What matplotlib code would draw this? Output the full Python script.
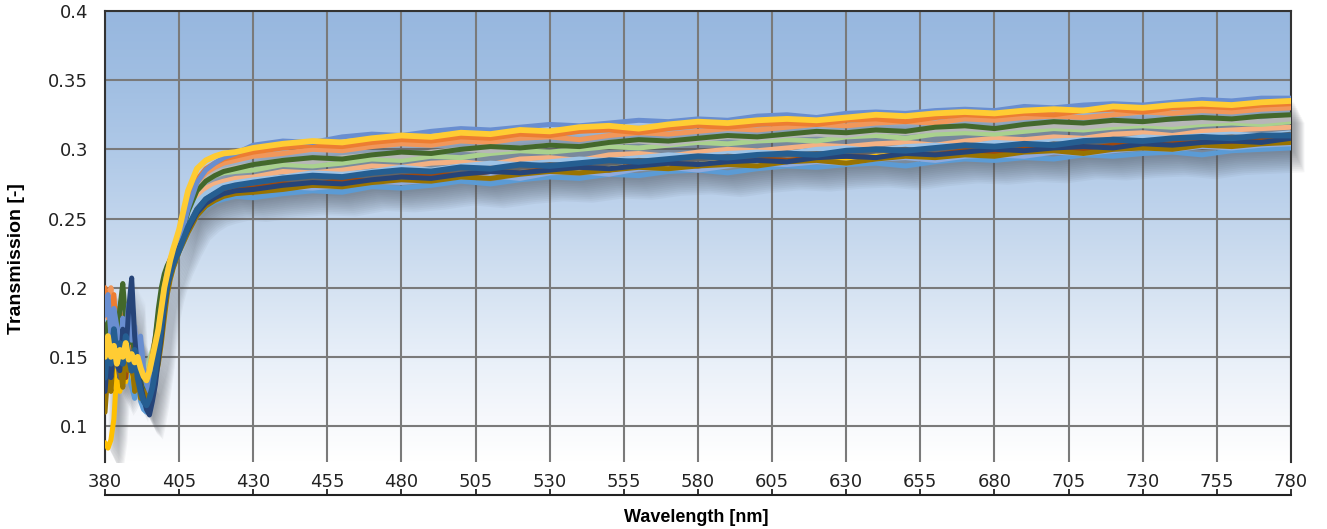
import matplotlib
matplotlib.use("Agg")
import matplotlib.pyplot as plt
import numpy as np
from matplotlib.colors import LinearSegmentedColormap
from matplotlib.patches import Rectangle
from matplotlib.transforms import ScaledTranslation

# wavelength grid [nm] (dense where the spectra jump around)
wavelength = [380, 381, 382, 383, 384, 385, 386, 387, 388, 389, 390, 391, 392,
              393, 394, 395, 396, 397, 398, 399, 400, 401, 402, 403, 404, 405,
              408, 411, 414, 417, 420, 424,
              430, 440, 450, 460, 470, 480, 490, 500, 510, 520, 530, 540,
              550, 560, 570, 580, 590, 600, 610, 620, 630, 640, 650, 660,
              670, 680, 690, 700, 710, 720, 730, 740, 750, 760, 770, 780]

# transmission, in thousandths
t_blue = [120, 150, 135, 160, 140, 165, 130, 150, 135, 128, 120, 140, 118, 112, 110, 118, 125, 138, 150, 165, 185, 198, 208, 215, 220, 226,
          240, 252, 258, 262, 264, 266,
          265, 268, 270, 269, 273, 272, 274, 277, 275, 278, 280, 279, 282, 281, 284, 285, 283, 286,
          288, 287, 289, 290, 288, 291, 293, 292, 294, 293, 296, 295, 297, 298, 296, 299, 300, 301]
t_lightblue2 = [140, 175, 155, 185, 150, 170, 160, 178, 150, 165, 140, 155, 130, 125, 120, 122, 130, 145, 160, 178, 195, 205, 212, 218, 224, 229,
                246, 258, 264, 267, 269, 270,
                270, 273, 272, 274, 277, 276, 278, 280, 281, 279, 283, 284, 282, 286, 287, 285, 288, 290,
                289, 291, 290, 293, 294, 292, 295, 296, 295, 298, 297, 299, 301, 300, 302, 301, 303, 304]
t_lightpeach = [185, 170, 195, 160, 188, 165, 180, 170, 158, 175, 150, 162, 140, 132, 128, 135, 145, 158, 175, 190, 202, 210, 218, 222, 227, 231,
                252, 266, 272, 275, 277, 279,
                280, 284, 283, 285, 288, 287, 290, 291, 289, 293, 294, 292, 296, 297, 295, 298, 300, 299,
                301, 303, 302, 304, 305, 303, 306, 308, 307, 309, 308, 311, 312, 310, 313, 314, 315, 316]
t_skyblue = [150, 182, 160, 175, 188, 158, 170, 150, 180, 160, 145, 158, 135, 128, 122, 130, 138, 150, 168, 182, 196, 206, 214, 220, 225, 230,
             250, 262, 268, 272, 274, 276,
             278, 280, 283, 282, 284, 287, 285, 288, 290, 289, 291, 293, 292, 294, 296, 295, 297, 298,
             297, 300, 301, 299, 302, 303, 302, 305, 304, 306, 307, 306, 309, 308, 310, 311, 310, 312]
t_lightgreen = [165, 155, 178, 168, 150, 172, 160, 140, 168, 150, 160, 138, 142, 135, 140, 148, 155, 162, 172, 188, 200, 210, 217, 223, 228, 232,
                256, 270, 277, 281, 283, 284,
                285, 289, 288, 290, 293, 292, 295, 294, 297, 299, 298, 300, 302, 301, 303, 305, 304, 306,
                307, 306, 309, 310, 308, 311, 312, 311, 313, 315, 314, 316, 317, 316, 318, 319, 318, 320]
t_darkgray = [130, 158, 140, 170, 148, 135, 160, 142, 170, 150, 128, 145, 125, 120, 118, 122, 132, 148, 165, 180, 195, 205, 212, 219, 224, 229,
              244, 257, 264, 268, 270, 272,
              274, 276, 279, 278, 281, 283, 282, 285, 284, 287, 289, 288, 290, 292, 291, 293, 295, 294,
              296, 297, 296, 299, 300, 298, 301, 302, 301, 304, 303, 305, 306, 305, 308, 309, 308, 311]
t_brown = [145, 130, 165, 150, 175, 140, 162, 135, 158, 142, 132, 148, 128, 118, 116, 124, 134, 146, 160, 176, 192, 203, 211, 217, 223, 228,
           243, 256, 263, 267, 269, 271,
           272, 275, 274, 278, 277, 280, 282, 281, 284, 283, 286, 287, 285, 289, 290, 288, 291, 293,
           292, 294, 295, 294, 297, 296, 299, 298, 300, 301, 300, 303, 302, 304, 305, 304, 307, 309]
t_olive = [110, 140, 125, 155, 170, 145, 128, 160, 140, 150, 125, 138, 120, 132, 118, 115, 125, 135, 145, 160, 178, 195, 206, 214, 220, 226,
           240, 252, 259, 263, 266, 268,
           269, 271, 274, 273, 276, 278, 277, 280, 279, 282, 284, 283, 285, 287, 286, 288, 289, 288,
           291, 292, 290, 293, 295, 294, 296, 295, 298, 299, 297, 300, 301, 300, 303, 302, 304, 305]
t_silver = [170, 160, 185, 150, 178, 162, 190, 155, 172, 148, 168, 140, 150, 138, 132, 140, 150, 162, 176, 192, 205, 214, 220, 225, 229, 233,
            258, 272, 279, 283, 285, 287,
            289, 292, 291, 294, 296, 295, 298, 300, 299, 301, 303, 302, 305, 306, 304, 307, 309, 308,
            310, 311, 310, 313, 312, 314, 315, 314, 316, 317, 316, 318, 319, 318, 320, 321, 320, 322]
t_peach = [190, 178, 200, 165, 185, 170, 158, 180, 162, 155, 170, 148, 145, 140, 136, 142, 152, 165, 180, 194, 206, 215, 221, 226, 230, 234,
           262, 276, 283, 287, 290, 292,
           295, 297, 300, 299, 302, 304, 303, 306, 305, 308, 309, 307, 310, 312, 311, 313, 315, 314,
           316, 318, 317, 319, 320, 319, 322, 321, 323, 324, 323, 325, 327, 326, 328, 327, 329, 330]
t_orange = [200, 185, 170, 195, 160, 182, 168, 150, 175, 160, 145, 162, 150, 138, 132, 138, 148, 160, 178, 192, 204, 214, 220, 225, 229, 233,
            262, 278, 286, 290, 293, 295,
            298, 301, 303, 302, 305, 307, 306, 309, 308, 311, 310, 313, 314, 312, 315, 317, 316, 318,
            319, 318, 321, 322, 320, 323, 325, 324, 326, 325, 328, 329, 327, 330, 331, 330, 332, 333]
t_darkgreen = [160, 175, 150, 170, 155, 185, 203, 175, 160, 170, 150, 158, 140, 135, 128, 138, 150, 165, 185, 200, 210, 216, 220, 224, 228, 232,
               255, 270, 277, 281, 284, 286,
               289, 292, 294, 293, 296, 298, 297, 300, 302, 301, 303, 302, 305, 307, 306, 308, 310, 309,
               311, 313, 312, 314, 313, 316, 317, 315, 318, 320, 319, 321, 320, 322, 323, 322, 324, 325]
t_cornflower = [180, 195, 165, 185, 172, 150, 178, 165, 188, 162, 172, 152, 165, 142, 130, 125, 135, 150, 170, 185, 200, 212, 220, 225, 228, 232,
                257, 276, 285, 290, 294, 297,
                303, 306, 305, 309, 311, 310, 313, 315, 314, 316, 318, 317, 319, 321, 320, 322, 321, 324,
                325, 323, 326, 327, 326, 328, 329, 328, 331, 330, 332, 333, 332, 334, 336, 335, 337, 337]
t_navy = [125, 150, 135, 160, 145, 140, 170, 150, 185, 207, 165, 140, 130, 120, 112, 108, 118, 130, 148, 165, 185, 200, 210, 218, 224, 229,
          242, 254, 261, 265, 268, 270,
          271, 274, 276, 275, 278, 280, 279, 282, 284, 283, 285, 287, 286, 288, 290, 289, 291, 292,
          291, 294, 295, 294, 297, 296, 298, 300, 299, 301, 302, 301, 304, 303, 305, 306, 305, 308]
t_gold = [88, 84, 90, 105, 140, 125, 150, 132, 158, 140, 128, 145, 126, 122, 120, 128, 138, 148, 162, 180, 195, 207, 215, 221, 226, 231,
          245, 257, 263, 266, 268, 269,
          270, 272, 275, 274, 277, 279, 278, 281, 280, 283, 285, 284, 286, 288, 287, 289, 291, 290,
          292, 293, 292, 295, 296, 294, 297, 299, 298, 300, 299, 302, 303, 301, 304, 305, 304, 306]
t_darkblue = [135, 160, 145, 170, 150, 160, 145, 165, 150, 140, 155, 135, 125, 118, 115, 120, 128, 140, 155, 172, 190, 202, 210, 217, 222, 227,
              244, 256, 264, 268, 272, 274,
              276, 279, 281, 280, 283, 285, 284, 287, 286, 289, 288, 290, 292, 291, 293, 295, 294, 296,
              297, 296, 299, 300, 299, 301, 303, 302, 304, 303, 306, 307, 306, 308, 309, 308, 310, 310]
t_yellow = [150, 165, 150, 158, 145, 155, 150, 160, 148, 152, 146, 150, 142, 136, 133, 140, 150, 160, 170, 185, 200, 210, 220, 228, 235, 242,
            270, 286, 292, 295, 297, 298,
            301, 304, 306, 305, 308, 310, 309, 312, 311, 314, 313, 316, 317, 315, 318, 320, 319, 321,
            322, 321, 323, 325, 324, 326, 327, 326, 328, 329, 328, 331, 330, 332, 333, 332, 334, 335]

# drawing order: last one ends up on top
series = [
    ("#5B9BD5", 3.6, t_blue),
    ("#FFC000", 3.6, t_gold),
    ("#8FAADC", 3.6, t_lightblue2),
    ("#F4B183", 3.6, t_lightpeach),
    ("#9DC3E6", 3.6, t_skyblue),
    ("#A9D18E", 3.6, t_lightgreen),
    ("#636363", 3.6, t_darkgray),
    ("#9E480E", 3.6, t_brown),
    ("#997300", 3.6, t_olive),
    ("#B7B7B7", 3.6, t_silver),
    ("#F1975A", 3.6, t_peach),
    ("#ED7D31", 3.6, t_orange),
    ("#43682B", 3.6, t_darkgreen),
    ("#698ED0", 3.6, t_cornflower),
    ("#264478", 3.6, t_navy),
    ("#255E91", 4.2, t_darkblue),
    ("#FFCC33", 4.2, t_yellow),
]

xticks = list(range(380, 781, 25))
yticks = [0.1, 0.15, 0.2, 0.25, 0.3, 0.35, 0.4]

W_PX, H_PX = 1327, 529
# plot frame in pixels from the top-left corner
X0, X1, Y0, Y1 = 105, 1291, 11, 462

fig = plt.figure(figsize=(W_PX / 100, H_PX / 100), dpi=100)
ax = fig.add_axes([X0 / W_PX, 1 - Y1 / H_PX, (X1 - X0) / W_PX, (Y1 - Y0) / H_PX])

# blue-to-white background
bg = LinearSegmentedColormap.from_list("bg", [
    (0.00, "#FFFFFF"), (0.10, "#F6F8FC"), (0.25, "#E6EEF8"), (0.40, "#D3E1F1"),
    (0.55, "#C0D4EC"), (0.70, "#AEC8E7"), (0.85, "#A0BEE2"), (1.00, "#97B7DF")])
ax.imshow(np.linspace(0, 1, 256).reshape(-1, 1), extent=[0, 1, 0, 1],
          transform=ax.transAxes, aspect="auto", cmap=bg, origin="lower", zorder=0)

stack = np.array([s[2] for s in series], dtype=float) / 1000.0
lo, hi = stack.min(axis=0), stack.max(axis=0)

# soft drop shadow behind the bundle of spectra
clip = Rectangle((0, 0), 1.03, 1, transform=ax.transAxes)
for k in range(12):
    off = ScaledTranslation((3 + 0.9 * k) / 100, -(4 + 1.8 * k) / 100, fig.dpi_scale_trans)
    poly = ax.fill_between(wavelength, lo, hi, color="#4a5058", alpha=0.055, lw=0,
                           transform=ax.transData + off, zorder=1.5)
    poly.set_clip_path(clip)

for color, lw, vals in series:
    ax.plot(wavelength, np.array(vals) / 1000.0, color=color, lw=lw,
            solid_joinstyle="round", solid_capstyle="round", zorder=3)

ax.set_xlim(380, 780)
ax.set_ylim(0.074, 0.4)
ax.set_xticks(xticks)
ax.set_yticks(yticks)
ax.set_yticklabels([f"{v:g}" for v in yticks])
ax.set_axisbelow(True)
ax.grid(color="#7a7a7a", lw=1.5)
ax.tick_params(axis="both", length=0, labelsize=13, colors="#222222")
ax.tick_params(axis="x", pad=8)
ax.tick_params(axis="y", pad=12)
ax.spines["bottom"].set_visible(False)
for s in ("left", "top", "right"):
    ax.spines[s].set_color("#333333")
    ax.spines[s].set_linewidth(1.5)

# separate axis line under the tick labels
axb = fig.add_axes([X0 / W_PX, 1 - 495 / H_PX, (X1 - X0) / W_PX, 0.001])
axb.set_xlim(380, 780)
axb.set_xticks(xticks)
axb.set_yticks([])
axb.patch.set_visible(False)
for s in ("top", "left", "right"):
    axb.spines[s].set_visible(False)
axb.spines["bottom"].set_color("#222222")
axb.spines["bottom"].set_linewidth(1.5)
axb.tick_params(axis="x", direction="in", length=4, width=1.3, color="#222222",
                labelbottom=False)

fig.text(696 / W_PX, 1 - 517 / H_PX, "Wavelength [nm]", ha="center", va="center",
         fontsize=13, fontweight="bold", family=["Liberation Sans", "DejaVu Sans"])
fig.text(17 / W_PX, 1 - 259 / H_PX, "Transmission [-]", ha="center", va="center",
         rotation=90, fontsize=14, fontweight="bold", family=["Liberation Sans", "DejaVu Sans"])

fig.savefig("out.png", dpi=100)
